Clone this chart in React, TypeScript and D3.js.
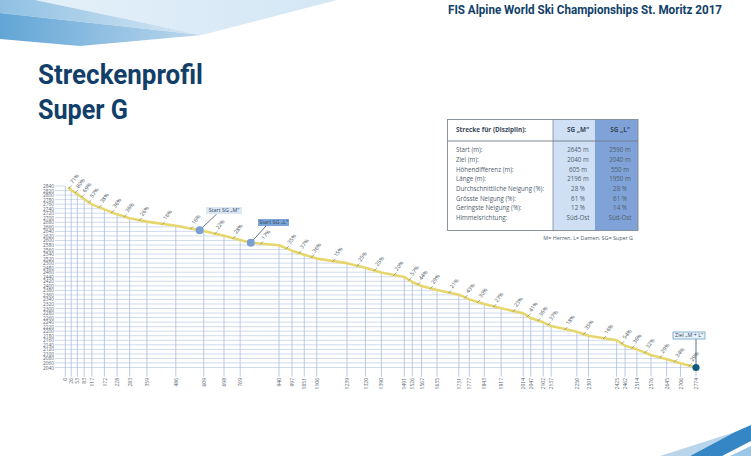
import React, { useEffect, useRef } from 'react';
import * as d3 from 'd3';

const WIDTH = 751;
const HEIGHT = 456;

// distances printed under the chart
const distTicks = [0, 26, 53, 83, 117, 172, 228, 283, 359, 486, 609, 698, 769, 940, 997, 1051, 1106, 1239, 1320, 1390, 1491, 1526, 1567, 1635, 1731, 1777, 1843, 1917, 2014, 2047, 2102, 2137, 2250, 2301, 2425, 2462, 2514, 2576, 2645, 2706, 2774];
const elevTicks = [2840, 2820, 2800, 2780, 2760, 2740, 2720, 2700, 2680, 2660, 2640, 2620, 2600, 2580, 2560, 2540, 2520, 2500, 2480, 2460, 2440, 2420, 2400, 2380, 2360, 2340, 2320, 2300, 2280, 2260, 2240, 2220, 2200, 2180, 2160, 2140, 2120, 2100, 2080, 2060, 2040];

// course profile
const profileDist = [12, 26, 53, 83, 117, 172, 228, 283, 359, 486, 609, 698, 769, 816, 940, 997, 1051, 1106, 1239, 1320, 1390, 1491, 1526, 1567, 1635, 1731, 1777, 1843, 1917, 2014, 2047, 2102, 2137, 2250, 2301, 2425, 2462, 2514, 2576, 2645, 2706, 2774];
const profileElev = [2834, 2822, 2805, 2783, 2759, 2737, 2715, 2698, 2683, 2665, 2642, 2621, 2602, 2590, 2579, 2555, 2537, 2520, 2500, 2480, 2459, 2439, 2417, 2399, 2382, 2361, 2340, 2320, 2301, 2279, 2258, 2239, 2223, 2198, 2180, 2160, 2136, 2120, 2095, 2076, 2059, 2040];

// gradient per section, one per interval of distTicks
const slopes = [71, 80, 69, 57, 38, 36, 36, 26, 16, 16, 22, 28, 17, 35, 37, 36, 15, 25, 25, 20, 57, 44, 29, 21, 43, 30, 27, 23, 41, 36, 37, 18, 35, 16, 54, 36, 32, 29, 34, 29];

const tableRows = ['Start (m):', 'Ziel (m):', 'Höhendifferenz (m):', 'Länge (m):', 'Durchschnittliche Neigung (%):', 'Grösste Neigung (%):', 'Geringste Neigung (%):', 'Himmelsrichtung:'];
const tableM = ['2645 m', '2040 m', '605 m', '2196 m', '28 %', '61 %', '12 %', 'Süd-Ost'];
const tableL = ['2590 m', '2040 m', '550 m', '1950 m', '28 %', '61 %', '14 %', 'Süd-Ost'];

const FONT = '"Open Sans", sans-serif';
const NAVY = '#123f69';

export default function App(): JSX.Element {
	const ref = useRef<SVGSVGElement | null>(null);
	useEffect(() => {
		if (!ref.current) return;
		const svg = d3.select(ref.current);
		svg.selectAll('*').remove();
		svg.attr('viewBox', `0 0 ${WIDTH} ${HEIGHT}`);

		const x = d3.scaleLinear([0, 2774], [65.3, 696]);
		const y = d3.scaleLinear([2040, 2840], [367.5, 186]);
		const elevAt = d3.scaleLinear(profileDist, profileElev).clamp(true);
		// same profile the other way round, to end the grid lines on the curve
		const distAt = d3.scaleLinear([...profileElev].reverse(), [...profileDist].reverse()).clamp(true);

		// corner decoration
		const defs = svg.append('defs');
		const grad = (id: string, x1: number, x2: number, from: string, to: string) => {
			const g = defs.append('linearGradient').attr('id', id).attr('gradientUnits', 'userSpaceOnUse')
				.attr('x1', x1).attr('y1', 0).attr('x2', x2).attr('y2', 0);
			g.append('stop').attr('offset', 0).attr('stop-color', from);
			g.append('stop').attr('offset', 1).attr('stop-color', to);
		};
		grad('g1', 35, 337, '#e4f0f9', '#d4e7f5');
		grad('g2', 0, 202, '#8fc0e3', '#d6e7f4');
		grad('g3', 0, 202, '#62a5d6', '#bcd8ed');
		const corner: [string, string][] = [
			['M35,0 L337,0 L202,35 Z', 'url(#g1)'],
			['M0,0 L35,0 L202,35 L0,13 Z', 'url(#g2)'],
			['M0,13 L202,35 L80,46 L0,39 Z', 'url(#g3)'],
			['M660,456 L735,432 L690,456 Z', '#b9d5ec'],
			['M690,456 L735,432 L751,425 L751,441 L722,456 Z', '#3486c4'],
			['M730,456 L751,446 L751,456 Z', '#9cc6e6'],
		];
		svg.append('g').selectAll('path').data(corner).join('path').attr('d', d => d[0]).attr('fill', d => d[1]);

		// headings
		const heading = [
			{ t: 'FIS Alpine World Ski Championships St. Moritz 2017', x: 448, y: 14, s: 12, w: 274 },
			{ t: 'Streckenprofil', x: 38, y: 84, s: 27, w: 165 },
			{ t: 'Super G', x: 38, y: 119, s: 27, w: 90 },
		];
		svg.append('g').selectAll('text').data(heading).join('text')
			.attr('x', d => d.x).attr('y', d => d.y).attr('font-size', d => d.s)
			.attr('textLength', d => d.w).attr('lengthAdjust', 'spacingAndGlyphs')
			.attr('font-family', 'Roboto, sans-serif').attr('font-weight', 700).attr('fill', NAVY)
			.text(d => d.t);

		// grid, cut off at the profile
		const grid = svg.append('g').attr('stroke-width', 0.8);
		grid.selectAll('line.h').data(elevTicks).join('line').attr('class', 'h')
			.attr('x1', 55).attr('x2', d => (d >= 2834 ? x(0) : x(distAt(d))))
			.attr('y1', d => y(d)).attr('y2', d => y(d)).attr('stroke', '#c3d2e8');
		grid.selectAll('line.v').data(distTicks).join('line').attr('class', 'v')
			.attr('x1', d => x(d)).attr('x2', d => x(d))
			.attr('y1', d => (d === 0 ? y(2840) : y(elevAt(d)))).attr('y2', 376.7)
			.attr('stroke', '#a9bddd');

		// axes, only the labels are kept
		const yAxis = svg.append('g').attr('transform', 'translate(55,0)')
			.call(d3.axisLeft(y).tickValues(elevTicks).tickSize(0).tickPadding(1).tickFormat(d => String(d)));
		yAxis.select('.domain').remove();
		yAxis.selectAll('text').attr('font-size', 4.8).attr('font-family', FONT).attr('fill', '#55616f');

		const xAxis = svg.append('g').attr('transform', 'translate(0,378)')
			.call(d3.axisBottom(x).tickValues(distTicks).tickSize(0).tickFormat(d => String(d)));
		xAxis.select('.domain').remove();
		xAxis.selectAll('text').attr('transform', 'rotate(-90)').attr('x', 0).attr('y', 0).attr('dy', '0.32em')
			.attr('text-anchor', 'end').attr('font-size', 5).attr('font-family', FONT).attr('fill', '#55616f');

		// profile
		const line = d3.line<number>().x((_, i) => x(profileDist[i])).y(d => y(d));
		svg.append('path').attr('d', line(profileElev) as any).attr('fill', 'none')
			.attr('stroke', '#e7d66c').attr('stroke-width', 2.6).attr('stroke-linejoin', 'round');

		// gradient labels, in the middle of each section
		const sections = slopes.map((s, i) => {
			const mid = (distTicks[i] + distTicks[i + 1]) / 2;
			return { s, px: x(mid) + 1.5, py: y(elevAt(mid)) };
		});
		const sec = svg.append('g');
		sec.selectAll('line').data(sections).join('line')
			.attr('x1', d => d.px - 1).attr('y1', d => d.py + 1).attr('x2', d => d.px + 2).attr('y2', d => d.py - 2)
			.attr('stroke', '#4b5663').attr('stroke-width', 0.5);
		sec.selectAll('text').data(sections).join('text')
			.attr('transform', d => `translate(${d.px + 3},${d.py - 3.5}) rotate(-52)`)
			.attr('font-size', 5.4).attr('font-family', FONT).attr('fill', '#4a5560')
			.text(d => `${d.s}%`);

		// start and finish markers
		const callouts = [
			{ t: 'Start SG „M“', d: 591, e: 2645, bx: 206, by: 207, bw: 36, fill: '#dbe7f5', stroke: 'none', tx: 216.7, ty: 214, r: 4, c: '#7a9fd4' },
			{ t: 'Start SG „L“', d: 816, e: 2590, bx: 258, by: 219, bw: 31, fill: '#7ba4d8', stroke: 'none', tx: 266, ty: 226, r: 4, c: '#7a9fd4' },
			{ t: 'Ziel „M + L“', d: 2774, e: 2040, bx: 673, by: 332, bw: 32, fill: '#e8f2fa', stroke: '#6ba0c9', tx: 696, ty: 339, r: 3.6, c: '#0d5c80' },
		];
		const call = svg.append('g');
		call.selectAll('line').data(callouts).join('line')
			.attr('x1', d => d.tx).attr('y1', d => d.ty).attr('x2', d => x(d.d)).attr('y2', d => y(d.e))
			.attr('stroke', '#27384a').attr('stroke-width', 0.7);
		call.selectAll('circle').data(callouts).join('circle')
			.attr('cx', d => x(d.d)).attr('cy', d => y(d.e)).attr('r', d => d.r).attr('fill', d => d.c);
		call.selectAll('rect').data(callouts).join('rect')
			.attr('x', d => d.bx).attr('y', d => d.by).attr('width', d => d.bw).attr('height', 7)
			.attr('fill', d => d.fill).attr('stroke', d => d.stroke).attr('stroke-width', 0.8);
		call.selectAll('text').data(callouts).join('text')
			.attr('x', d => d.bx + d.bw / 2).attr('y', d => d.by + 5.4).attr('text-anchor', 'middle')
			.attr('font-size', 5.4).attr('font-family', FONT).attr('fill', '#33475b')
			.text(d => d.t);

		// table
		const tbl = svg.append('g').attr('font-family', FONT);
		tbl.append('rect').attr('x', 553).attr('y', 119.5).attr('width', 42).attr('height', 111).attr('fill', '#cfe0f4');
		tbl.append('rect').attr('x', 595).attr('y', 119.5).attr('width', 43).attr('height', 111).attr('fill', '#7fa3d8');
		tbl.append('rect').attr('x', 447.5).attr('y', 119.5).attr('width', 190.5).attr('height', 111)
			.attr('fill', 'none').attr('stroke', '#7f8a96').attr('stroke-width', 0.9);
		tbl.append('line').attr('x1', 447.5).attr('x2', 638).attr('y1', 141).attr('y2', 141).attr('stroke', '#6f7b88').attr('stroke-width', 0.9);
		tbl.append('line').attr('x1', 553).attr('x2', 553).attr('y1', 119.5).attr('y2', 230.5).attr('stroke', '#6f7b88').attr('stroke-width', 0.7);

		const rowY = d3.scalePoint(tableRows, [150, 217.7]);
		const colText = (vals: string[], px: number, anchor: string) => {
			tbl.append('g').selectAll('text').data(vals).join('text')
				.attr('x', px).attr('y', (_, i) => (rowY(tableRows[i]) || 0)).attr('dy', '0.35em')
				.attr('text-anchor', anchor).attr('font-size', 6.2).attr('fill', '#4f5d6d').text(d => d);
		};
		colText(tableRows, 456, 'start');
		colText(tableM, 578, 'middle');
		colText(tableL, 620, 'middle');

		const heads = [
			{ t: 'Strecke für (Disziplin):', px: 456, a: 'start' },
			{ t: 'SG „M“', px: 578, a: 'middle' },
			{ t: 'SG „L“', px: 620, a: 'middle' },
		];
		tbl.append('g').selectAll('text').data(heads).join('text')
			.attr('x', d => d.px).attr('y', 130).attr('dy', '0.35em').attr('text-anchor', d => d.a)
			.attr('font-size', 6.4).attr('font-weight', 700).attr('fill', '#3a4858').text(d => d.t);
		tbl.append('text').attr('x', 633).attr('y', 238).attr('dy', '0.35em').attr('text-anchor', 'end')
			.attr('font-size', 5.4).attr('fill', '#4f5d6d').text('M= Herren, L= Damen, SG= Super  G');
	}, []);
	return <svg ref={ref} width={WIDTH} height={HEIGHT} style={{ position: 'absolute', left: 0, top: 0, display: 'block' }} />;
}
